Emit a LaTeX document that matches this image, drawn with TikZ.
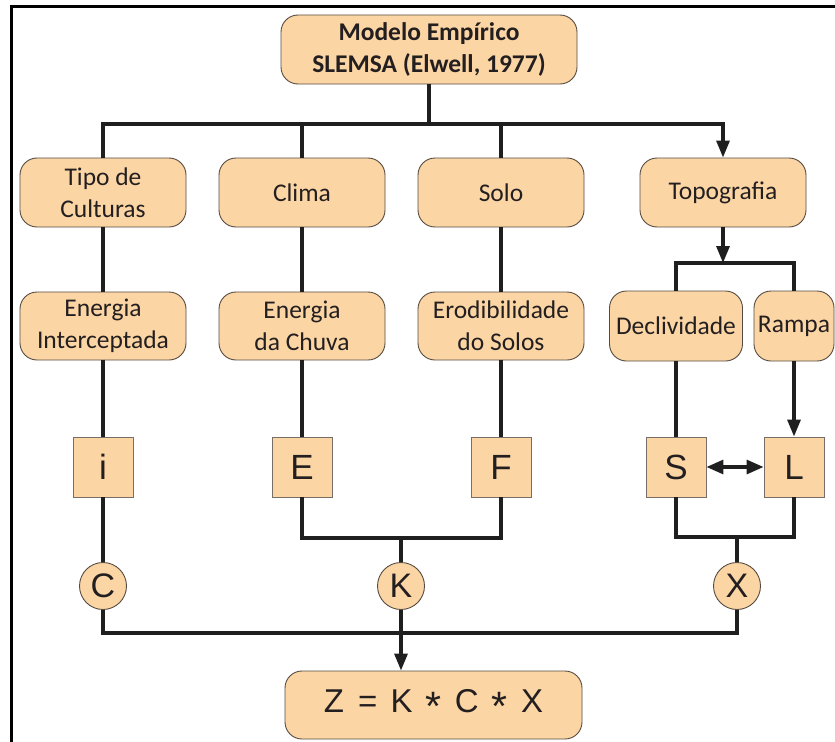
\documentclass[tikz,border=0pt]{standalone}
\usepackage{fontspec}
\setmainfont{Carlito}
\newfontfamily\arialf{Liberation Sans}
\usetikzlibrary{arrows.meta}
\definecolor{peach}{RGB}{252,213,164}
\definecolor{edgec}{RGB}{85,75,65}
\definecolor{txt}{RGB}{35,31,32}
\newcommand{\bigast}{\raisebox{-8bp}{\fontsize{41bp}{41bp}\selectfont *}}
\tikzset{
  rbox/.style={draw=edgec, line width=0.9bp, fill=peach, rounded corners=17bp, align=center, text=txt, inner sep=0pt, font=\fontsize{25.5bp}{32bp}\selectfont},
  sqbox/.style={draw=edgec!80, line width=0.9bp, fill=peach, minimum width=60bp, minimum height=60bp, inner sep=0pt, text=txt, font=\arialf\fontsize{35bp}{40bp}\selectfont},
  circ/.style={circle, draw=edgec, line width=0.9bp, fill=peach, minimum size=47bp, inner sep=0pt, text=txt, font=\arialf\fontsize{34bp}{40bp}\selectfont},
  conn/.style={line width=3.2bp, draw=black!88},
  arr/.style={conn, -{Triangle[length=17bp,width=13bp]}},
  dbl/.style={conn, {Triangle[length=17bp,width=14bp]}-{Triangle[length=17bp,width=14bp]}}
}
\begin{document}
\begin{tikzpicture}[x=1bp,y=-1bp]
\useasboundingbox (0,0) rectangle (835,742);
\draw[line width=3bp] (11,742) -- (11,7) -- (835,7);
% top
\node[rbox, minimum width=296bp, minimum height=69bp, font=\bfseries\fontsize{25.5bp}{32bp}\selectfont] (top) at (429,49.5) {Modelo Empírico\\SLEMSA (Elwell, 1977)};
% row 1
\node[rbox, minimum width=166bp, minimum height=69bp] (tipo) at (103,192.5) {Tipo de\\Culturas};
\node[rbox, minimum width=166bp, minimum height=69bp] (clima) at (302,192.5) {Clima};
\node[rbox, minimum width=166bp, minimum height=69bp] (solo) at (501,192.5) {Solo};
\node[rbox, minimum width=166bp, minimum height=69bp] (topo) at (723,192.5) {Topografia};
% row 2
\node[rbox, minimum width=166bp, minimum height=68bp] (en1) at (103,326) {Energia\\Interceptada};
\node[rbox, minimum width=166bp, minimum height=68bp] (en2) at (302,326) {Energia\\da Chuva};
\node[rbox, minimum width=166bp, minimum height=68bp] (ero) at (501,326) {Erodibilidade\\do Solos};
\node[rbox, minimum width=133bp, minimum height=70bp] (decl) at (676,326) {Declividade};
\node[rbox, minimum width=80bp, minimum height=70bp] (rampa) at (794,326) {Rampa};
% row 3
\node[sqbox] (i) at (103,467) {i};
\node[sqbox] (E) at (302,467) {E};
\node[sqbox] (F) at (501,467) {F};
\node[sqbox] (S) at (676,467) {S};
\node[sqbox] (L) at (794,467) {L};
% circles
\node[circ] (C) at (103,586) {C};
\node[circ] (K) at (401,586) {K};
\node[circ] (X) at (737,586) {X};
% result
\node[rbox, minimum width=297bp, minimum height=68bp, font=\arialf\fontsize{33bp}{40bp}\selectfont] (Z) at (433.5,705) {Z\hspace{5bp} = \hspace{4bp}K\hspace{4bp} \bigast{}\hspace{4bp} C\hspace{4bp} \bigast{}\hspace{4bp} X};
% junctions
\coordinate (j0) at (429,124);
\coordinate (j1) at (401,538);
\coordinate (j2) at (723,263);
\coordinate (j3) at (737,537);
\coordinate (j4) at (401,633);
% connectors
\draw[conn] (top.south) -- (j0);
\draw[conn] (tipo.north) |- (j0);
\draw[arr] (j0) -| (topo.north);
\draw[conn] (clima.north) -- (clima.north |- j0);
\draw[conn] (solo.north) -- (solo.north |- j0);
\draw[conn] (tipo.south) -- (en1.north);
\draw[conn] (clima.south) -- (en2.north);
\draw[conn] (solo.south) -- (ero.north);
\draw[conn] (en1.south) -- (i.north);
\draw[conn] (en2.south) -- (E.north);
\draw[conn] (ero.south) -- (F.north);
\draw[arr] (topo.south) -- (j2);
\draw[conn] (decl.north) |- (j2) -| (rampa.north);
\draw[conn] (decl.south) -- (S.north);
\draw[arr] (rampa.south) -- (L.north);
\draw[dbl] (S.east) -- (L.west);
\draw[conn] (i.south) -- (C.north);
\draw[conn] (E.south) |- (j1) -| (F.south);
\draw[conn] (j1) -- (K.north);
\draw[conn] (S.south) |- (j3) -| (L.south);
\draw[conn] (j3) -- (X.north);
\draw[conn] (C.south) |- (j4) -| (X.south);
\draw[arr] (K.south) -- (K.south |- Z.north);
\end{tikzpicture}
\end{document}
